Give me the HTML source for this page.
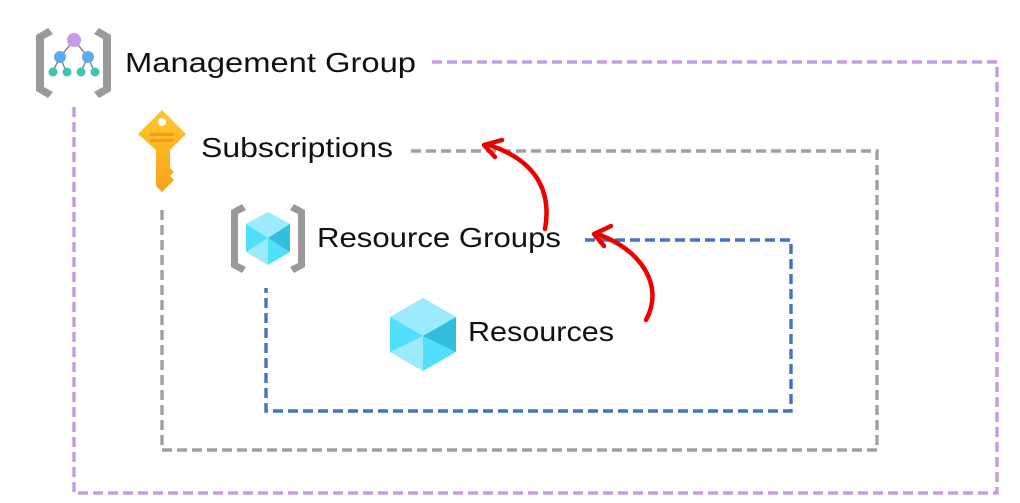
<!DOCTYPE html>
<html><head><style>
html,body{margin:0;padding:0;background:#fff;}
svg{display:block;}
text{font-family:"Liberation Sans",sans-serif;fill:#111;}
</style></head><body>
<svg width="1020" height="503" viewBox="0 0 1020 503" xmlns="http://www.w3.org/2000/svg">
<g fill="none" stroke-width="3.4" stroke-dasharray="10 5">
<path d="M432 62 H997 V493 H74 V104" stroke="#c49be8"/>
<path d="M411 151 H877 V450 H162 V208" stroke="#a0a0a0"/>
<path d="M585 240 H791 V411 H266 V288" stroke="#4472c4"/>
</g>
<!-- management group icon -->
<g>
<path d="M48 28 L36 35 V91 L48 98 L53 92 L44 87 V39 L53 34 Z" fill="#9a9a9a"/>
<path d="M99 28 L111 35 V91 L99 98 L94 92 L103 87 V39 L94 34 Z" fill="#9a9a9a"/>
<path d="M74 40 L60 57 L53 71 M60 57 L66 71 M74 40 L88 57 L81 71 M88 57 L94 71" stroke="#888" stroke-width="1.5" fill="none"/>
<circle cx="74" cy="40" r="7" fill="#c39be6"/>
<circle cx="60" cy="57" r="6" fill="#5aaef0"/>
<circle cx="88" cy="57" r="6" fill="#5aaef0"/>
<circle cx="53" cy="72" r="4.5" fill="#3cc6b0"/>
<circle cx="67" cy="72" r="4.5" fill="#3cc6b0"/>
<circle cx="81" cy="72" r="4.5" fill="#3cc6b0"/>
<circle cx="95" cy="72" r="4.5" fill="#3cc6b0"/>
</g>
<!-- key -->
<g>
<defs><linearGradient id="kg" x1="0" y1="0" x2="0" y2="1"><stop offset="0" stop-color="#ffc82a"/><stop offset="1" stop-color="#f7a21b"/></linearGradient></defs>
<path d="M162 110 L186 134 L170 150 V168 L174 172 L170 176 L174 180 L170 184 L162 192 L156 186 V150 L138 134 Z" fill="url(#kg)"/>
<circle cx="162" cy="122" r="4" fill="#fff"/>
<rect x="150" y="133" width="24" height="3" fill="#f39a1c"/>
<rect x="150" y="139" width="24" height="3" fill="#f39a1c"/>
</g>
<!-- RG icon -->
<g>
<path d="M242 204 L231 210 V267 L242 273 L246 267 L238 263 V214 L246 210 Z" fill="#9a9a9a"/>
<path d="M294 204 L305 210 V267 L294 273 L290 267 L298 263 V214 L290 210 Z" fill="#9a9a9a"/>
<path d="M268 212 L290 224 V252 L268 265 L246 252 V224 Z" fill="#50e0fc"/>
<path d="M268 212 L290 224 L268 238 L246 224 Z" fill="#9ceafc"/>
<path d="M268 238 L290 224 V252 Z" fill="#32bedd"/>
<path d="M268 238 L246 252 L268 265 Z" fill="#9ceafc"/>
</g>
<!-- resource cube -->
<g>
<path d="M423 298 L456 317 V352 L423 371 L390 352 V317 Z" fill="#50e0fc"/>
<path d="M423 298 L456 317 L423 336 L390 317 Z" fill="#9ceafc"/>
<path d="M423 336 L456 317 V352 Z" fill="#32bedd"/>
<path d="M423 336 L390 352 L423 371 Z" fill="#9ceafc"/>
</g>
<text x="125" y="72" font-size="28" textLength="291" lengthAdjust="spacingAndGlyphs">Management Group</text>
<text x="201" y="157" font-size="28" textLength="192" lengthAdjust="spacingAndGlyphs">Subscriptions</text>
<text x="317" y="247" font-size="28" textLength="244" lengthAdjust="spacingAndGlyphs">Resource Groups</text>
<text x="468" y="341" font-size="28" textLength="146" lengthAdjust="spacingAndGlyphs">Resources</text>
<!-- red arrows -->
<g fill="none" stroke="#ee0000" stroke-width="4.5" stroke-linecap="round" stroke-linejoin="round">
<path d="M545 229 C552 190 535 160 489 145"/>
<path d="M502 140 L484 145 L495 157"/>
<path d="M646 320 C665 285 640 250 600 235"/>
<path d="M611 226 L594 234 L604 246"/>
</g>
</svg>
</body></html>
